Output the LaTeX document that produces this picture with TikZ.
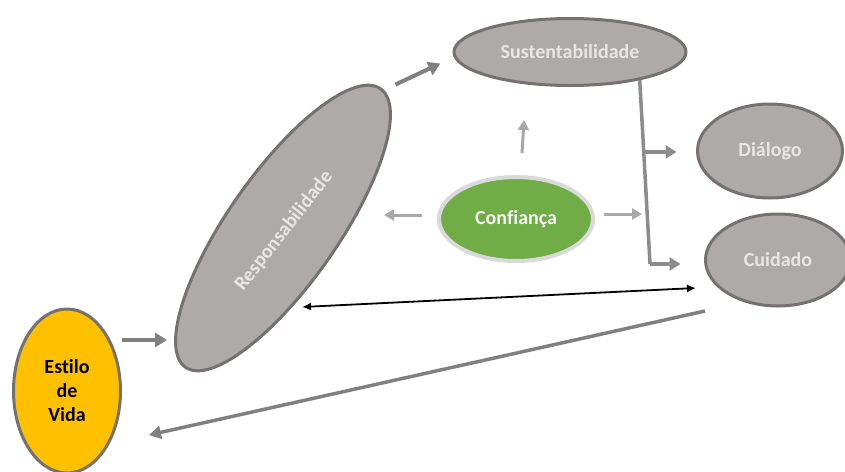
\documentclass[tikz,border=0pt]{standalone}
\usepackage{fontspec}
\setmainfont[Ligatures=NoCommon]{Carlito}
\usepackage{tikz}
\usetikzlibrary{shapes,arrows.meta,positioning,calc}
\definecolor{rimgray}{RGB}{118,113,113}
\definecolor{bubblegray}{RGB}{174,170,170}
\definecolor{labelgray}{RGB}{231,230,230}
\definecolor{flowgray}{RGB}{128,128,128}
\definecolor{railgray}{RGB}{140,140,140}
\definecolor{softgray}{RGB}{168,168,168}
\definecolor{trustgreen}{RGB}{112,173,71}
\definecolor{trustrim}{RGB}{217,217,217}
\definecolor{lifeyellow}{RGB}{255,192,0}

\tikzset{
    bubble/.style={ellipse, draw=rimgray, line width=3pt, fill=bubblegray,
        text=labelgray, inner sep=0pt, align=center,
        font=\fontsize{20}{24}\selectfont\bfseries},
    lifebox/.style={bubble, fill=lifeyellow, text=black},
    trustbox/.style={bubble, draw=trustrim, line width=4pt, fill=trustgreen,
        text=white!96!black},
    flow/.style={draw=flowgray, line width=4pt, -{Triangle[length=12pt,width=14pt]}},
    rail/.style={draw=railgray, line width=3.5pt},
    branch/.style={rail, -{Triangle[length=11pt,width=13pt]}},
    softflow/.style={draw=softgray, line width=3pt, -{Triangle[length=10pt,width=11pt]}},
    duo/.style={draw=black, line width=1.8pt, {Latex[length=9pt,width=8pt]}-{Latex[length=9pt,width=8pt]}},
    longflow/.style={draw=flowgray, line width=3.5pt, -{Triangle[length=12pt,width=13pt]}}
}

\begin{document}
\begin{tikzpicture}[x=1pt,y=-1pt]
    \useasboundingbox (0,0) rectangle (845,471);

    \node[lifebox, minimum width=107pt, minimum height=164pt] (estilo) at (67,391) {Estilo\\de\\Vida};
    \node[bubble, rotate=55, minimum width=340pt, minimum height=110pt] (resp) at (283,228) {};
    \node[rotate=52, text=labelgray, inner sep=0pt, font=\fontsize{20}{24}\selectfont\bfseries]
        (resplabel) at ($(resp)+(1,3)$) {Responsabilidade};
    \node[bubble, minimum width=232pt, minimum height=67pt] (sust) at (570,52) {Sustentabilidade};
    \node[bubble, minimum width=145pt, minimum height=94pt] (dial) at (770,151) {Diálogo};
    \node[bubble, minimum width=145pt, minimum height=92pt] (cuid) at (778,260) {Cuidado};
    \node[trustbox, minimum width=154pt, minimum height=84pt] (conf) at (516,219) {Confiança};

    \draw[flow] ($(estilo.east)+(0,-51)$) -- ($(estilo.east)+(45,-51)$);
    \draw[flow] ($(resp.east)+(14,-3)$) -- ($(resp.east)+(59,-24)$);

    \coordinate (bend) at (650,264);
    \coordinate (fork) at ($(sust.-22)!0.39!(bend)$);
    \draw[rail] (sust.-22) -- (bend);
    \draw[branch, shorten >=19.5pt] (fork) -- (fork -| dial.west);
    \draw[branch, shorten >=23.5pt] (bend) -- (bend -| cuid.west);

    \draw[softflow] ($(conf.north)+(6,-22)$) -- ($(conf.north)+(8,-55)$);
    \draw[softflow] ($(conf.west)+(-15,-4)$) -- ($(conf.west)+(-53,-4)$);
    \draw[softflow] ($(conf.east)+(9,-5)$) -- ($(conf.east)+(47,-5)$);

    \draw[duo] ($(resp)+(19,79)$) -- ($(cuid.west)+(-8,28)$);
    \draw[longflow] ($(cuid.west)+(1,51)$) -- ($(estilo.east)+(27,44)$);
\end{tikzpicture}
\end{document}
